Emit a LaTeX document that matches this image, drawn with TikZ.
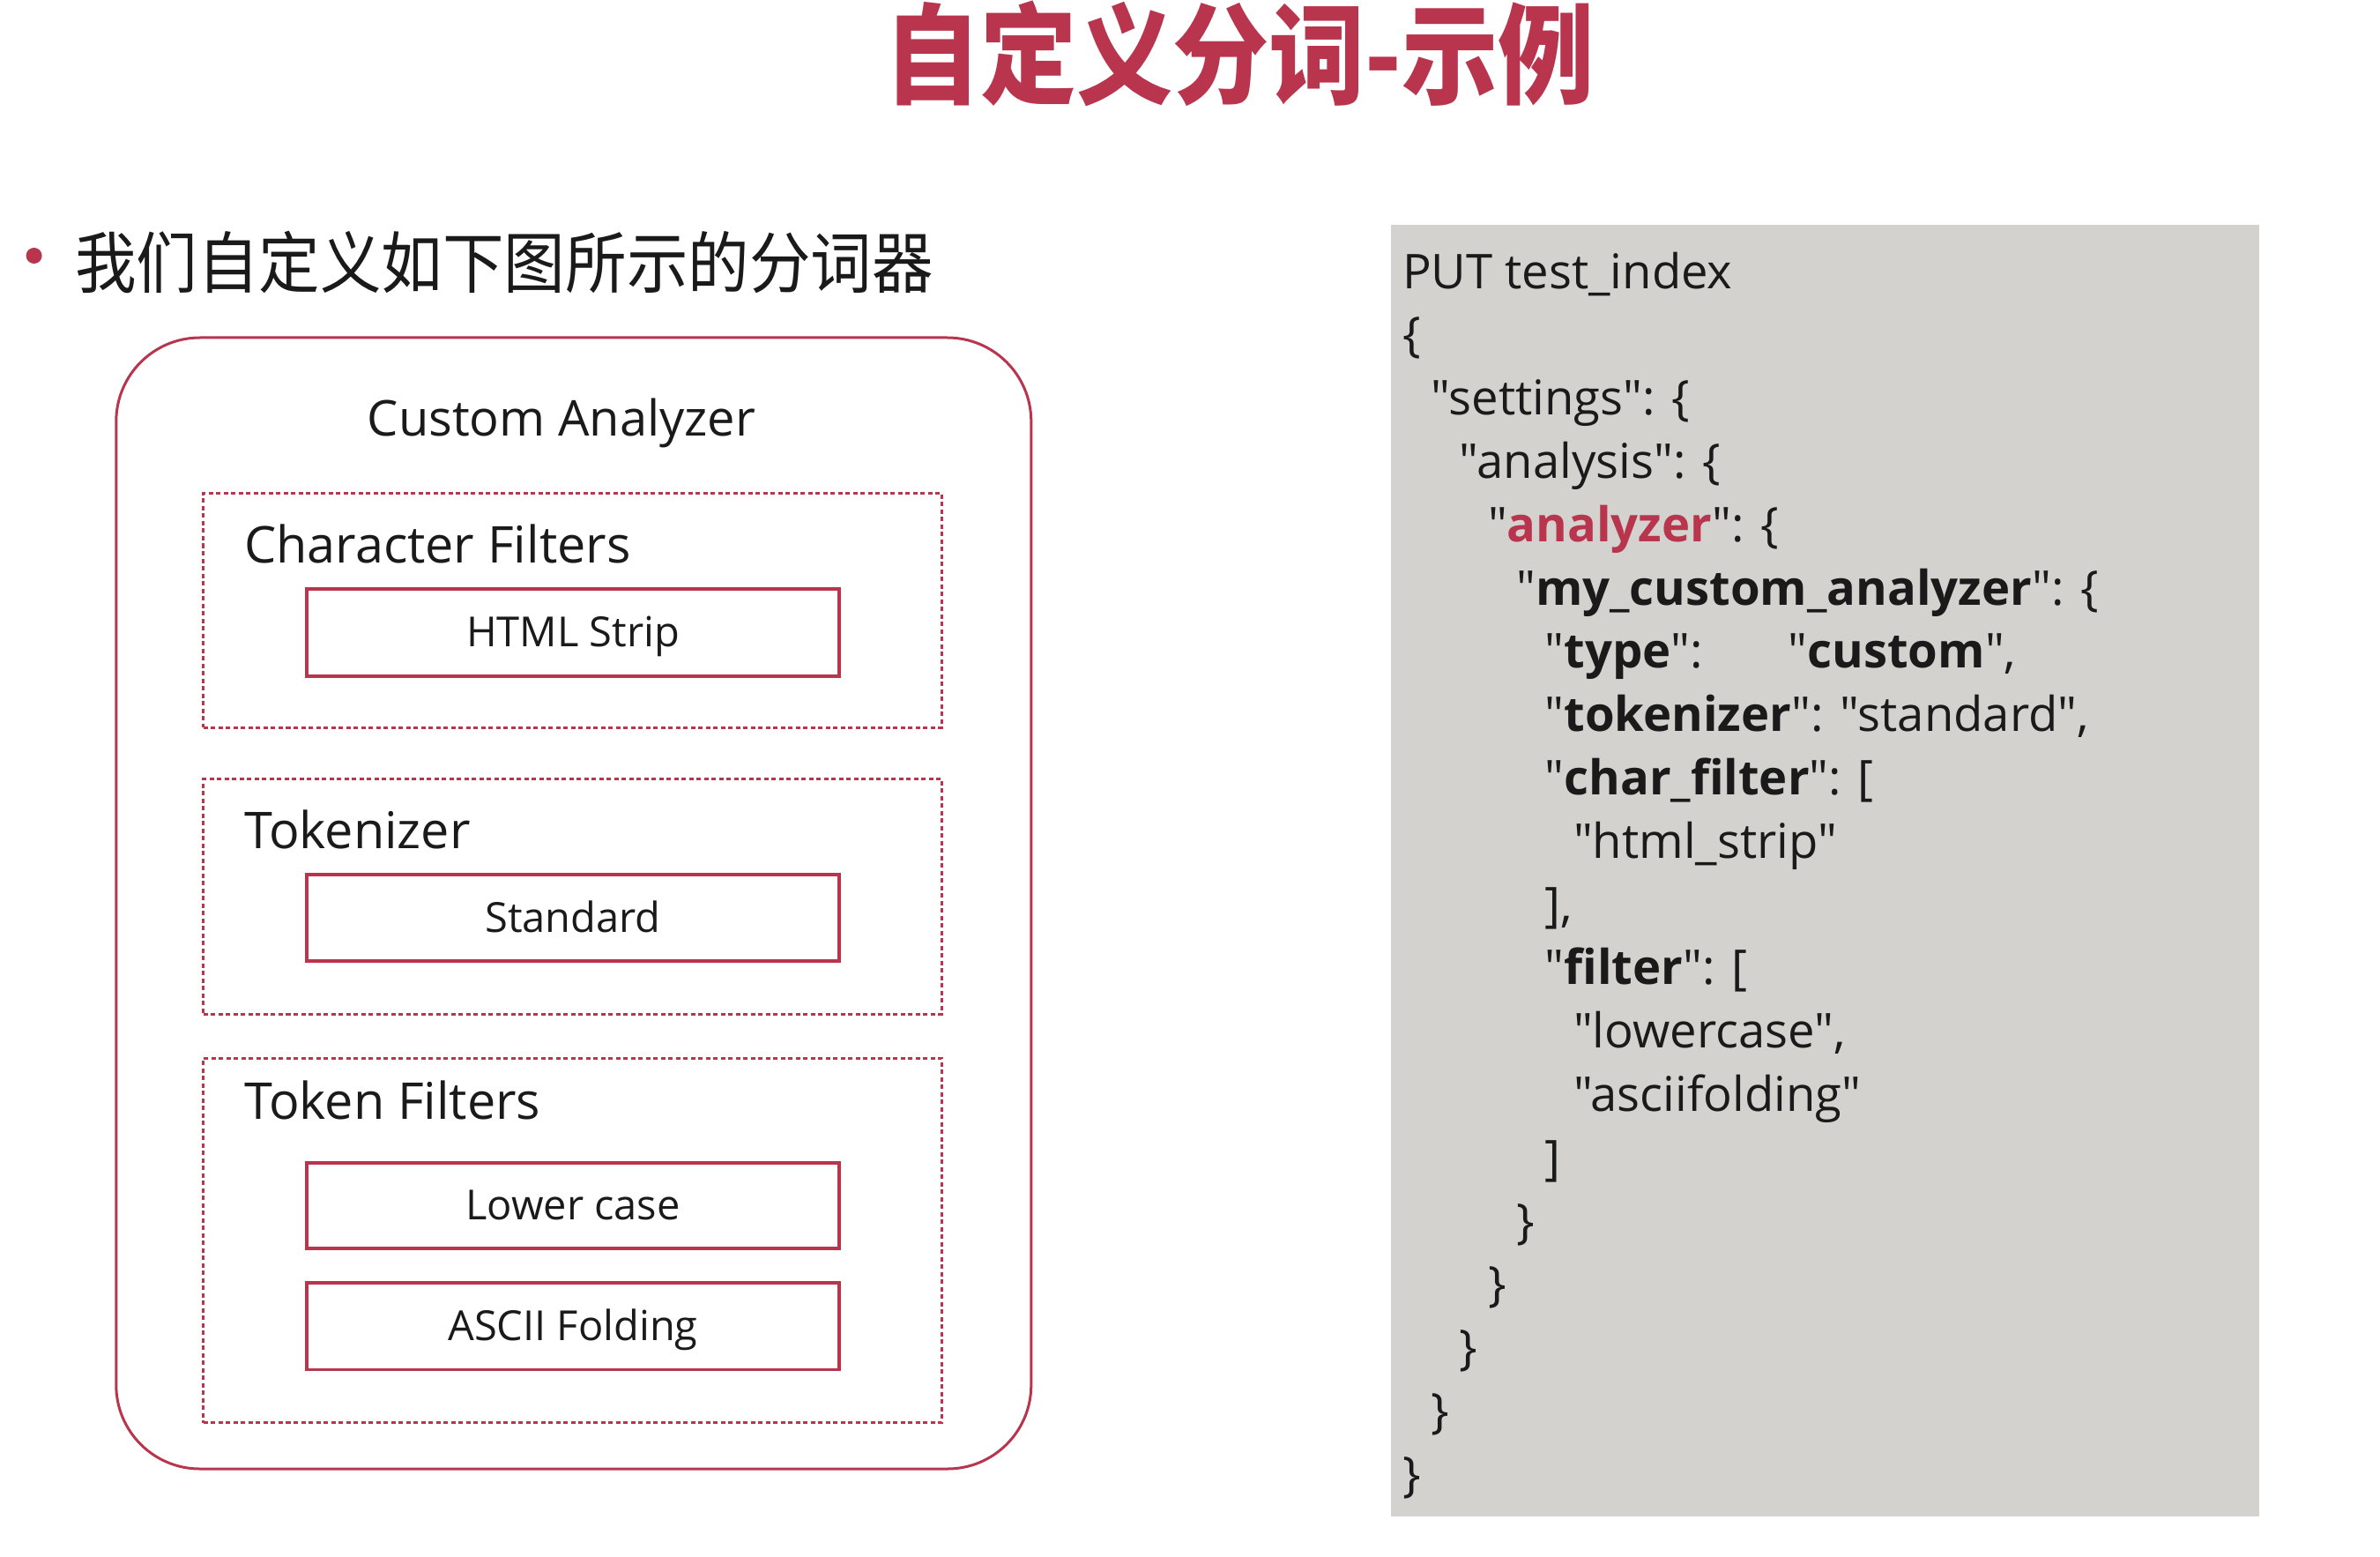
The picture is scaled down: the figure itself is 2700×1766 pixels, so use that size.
\documentclass[tikz,border=0pt]{standalone}
\usepackage{fontspec}
\setmainfont{Open Sans}
\newfontfamily\codefont{Open Sans}
\newfontfamily\cjk{Noto Sans CJK SC}[FakeStretch=0.915]
\newfontfamily\cjktitle{Noto Sans CJK SC}[FakeStretch=0.88]
\definecolor{crim}{RGB}{184,53,77}
\definecolor{codebg}{RGB}{211,210,207}
\definecolor{ink}{RGB}{26,26,26}
\newcommand\fsz[1]{\fontsize{#1bp}{#1bp}\selectfont}
\tikzset{
  outerbox/.style={draw=crim, line width=3bp, rounded corners=95bp, inner sep=0pt},
  groupbox/.style={draw=crim, line width=3bp, dash pattern=on 5bp off 3.5bp, inner sep=0pt},
  stagebox/.style={draw=crim, line width=3.5bp, inner sep=0pt, font=\fsz{47}, text=ink, text height=32bp, text depth=0bp},
  grouplabel/.style={anchor=base west, inner sep=0pt, font=\fsz{57.5}, text=ink},
  codepanel/.style={fill=codebg, draw=none, inner sep=0pt},
  codeline/.style={anchor=base west, inner sep=0pt, font=\codefont\fsz{54.4}, text=ink},
}
\begin{document}
\begin{tikzpicture}[x=1bp,y=-1bp]
\useasboundingbox (0,0) rectangle (2700,1766);
% title
\node[anchor=base, inner sep=0pt, text=crim, font=\cjktitle\bfseries\fsz{124}] (title) at (1406,108) {自定义分词-示例};
% bullet
\fill[crim] (38.6,290) circle (9);
\node[anchor=base west, inner sep=0pt, text=ink, font=\cjk\fsz{76}] (bullet) at (85,326) {我们自定义如下图所示的分词器};
% left diagram
\node[outerbox, minimum width=1038bp, minimum height=1283bp] (outer) at (650.8,1024.5) {};
\node[anchor=base, inner sep=0pt, font=\fsz{56}, text=ink] (ca) at (637,494) {Custom Analyzer};
\node[groupbox, minimum width=837bp, minimum height=266bp] (g1) at (649.5,692) {};
\node[groupbox, minimum width=837bp, minimum height=267bp] (g2) at (649.5,1016.5) {};
\node[groupbox, minimum width=837bp, minimum height=413.6bp] (g3) at (649.5,1406.8) {};
\node[grouplabel] (g1l) at (277,638) {Character Filters};
\node[grouplabel] (g2l) at (277,962) {Tokenizer};
\node[grouplabel] (g3l) at (277,1269.6) {Token Filters};
\node[stagebox, minimum width=604bp, minimum height=99bp] (html) at (650,717.5) {HTML Strip};
\node[stagebox, minimum width=604bp, minimum height=98bp] (std) at (650,1041) {Standard};
\node[stagebox, minimum width=604bp, minimum height=97bp] (lower) at (650,1367.5) {Lower case};
\node[stagebox, minimum width=604bp, minimum height=98.6bp] (ascii) at (650,1504.3) {ASCII Folding};
% code panel
\node[codepanel, minimum width=985bp, minimum height=1465bp] (panel) at (2070.5,987.5) {};
\node[codeline] (l1) at (1591,327) {PUT test\_index};
\node[codeline] (l2) at (1591,398.8) {\{};
\node[codeline] (l3) at (1623.3,470.6) {"settings": \{};
\node[codeline] (l4) at (1655.6,542.4) {"analysis": \{};
\node[codeline] (l5) at (1687.9,614.2) {"\textcolor{crim}{\textbf{analyzer}}": \{};
\node[codeline] (l6) at (1720.2,686) {"\textbf{my\_custom\_analyzer}": \{};
\node[codeline] (l7) at (1752.5,757.8) {\makebox[276bp][l]{"\textbf{type}":}"\textbf{custom}",};
\node[codeline] (l8) at (1752.5,829.6) {"\textbf{tokenizer}": "standard",};
\node[codeline] (l9) at (1752.5,901.4) {"\textbf{char\_filter}": [};
\node[codeline] (l10) at (1784.8,973.2) {"html\_strip"};
\node[codeline] (l11) at (1752.5,1045) {],};
\node[codeline] (l12) at (1752.5,1116.8) {"\textbf{filter}": [};
\node[codeline] (l13) at (1784.8,1188.6) {"lowercase",};
\node[codeline] (l14) at (1784.8,1260.4) {"asciifolding"};
\node[codeline] (l15) at (1752.5,1332.2) {]};
\node[codeline] (l16) at (1720.2,1404) {\}};
\node[codeline] (l17) at (1687.9,1475.8) {\}};
\node[codeline] (l18) at (1655.6,1547.6) {\}};
\node[codeline] (l19) at (1623.3,1619.4) {\}};
\node[codeline] (l20) at (1591,1691.2) {\}};
\end{tikzpicture}
\end{document}
